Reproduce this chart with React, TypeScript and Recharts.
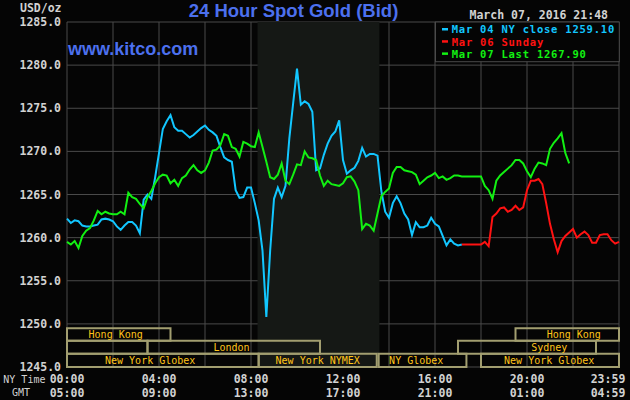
import React from 'react';
import { LineChart, Line, XAxis, YAxis, CartesianGrid, ReferenceArea, ReferenceDot } from 'recharts';

// ---------- data ----------
const STEP_MIN = 10;
const minutes: number[] = Array.from({ length: 145 }, (_, i) => i * STEP_MIN);

// Mar 04 NY close (cyan), 00:00 .. 17:10
const mar04: number[] = [
  1262.2, 1261.7, 1262.0, 1261.9, 1261.4, 1261.3, 1261.3, 1261.4, 1261.5, 1262.1,
  1262.2, 1262.1, 1261.9, 1261.3, 1260.9, 1261.4, 1261.8, 1261.8, 1261.4, 1260.5,
  1264.4, 1265.0, 1264.5, 1267.0, 1269.8, 1272.6, 1273.5, 1274.2, 1272.8, 1272.4,
  1272.4, 1272.0, 1271.6, 1271.9, 1272.3, 1272.7, 1273.0, 1272.5, 1272.2, 1271.8,
  1270.5, 1269.3, 1269.0, 1268.8, 1265.5, 1264.6, 1264.7, 1265.8, 1265.8, 1264.0,
  1262.0, 1258.5, 1250.8, 1258.5, 1264.5, 1265.8, 1264.7, 1266.0, 1271.5, 1275.6,
  1279.6, 1275.4, 1275.8, 1275.5, 1274.6, 1267.8, 1268.0, 1269.6, 1270.9, 1271.8,
  1272.3, 1273.6, 1269.0, 1267.4, 1267.8, 1268.1, 1268.9, 1270.4, 1269.4, 1269.7,
  1269.7, 1269.5, 1265.4, 1263.0, 1262.3, 1264.0, 1264.8, 1264.0, 1262.8, 1262.1,
  1260.3, 1261.8, 1261.2, 1261.2, 1261.4, 1262.3, 1261.6, 1261.3, 1260.2, 1259.1,
  1259.8, 1259.3, 1259.1, 1259.2,
];

// Mar 06 Sunday (red), from 17:10 .. 23:59
const mar06StartMin = 1030;
const mar06: number[] = [
  1259.2, 1259.2, 1259.2, 1259.2, 1259.2, 1259.2,
  1259.5, 1259.0, 1262.4, 1262.8, 1263.4, 1263.5, 1263.0, 1263.2, 1263.7, 1263.2,
  1263.5, 1265.5, 1266.6, 1266.6, 1266.8, 1266.2, 1264.0, 1261.6, 1259.8, 1258.3,
  1259.6, 1260.2, 1260.6, 1261.0, 1260.0, 1260.4, 1260.7, 1260.3, 1259.4, 1259.4,
  1260.3, 1260.4, 1260.4, 1259.7, 1259.3, 1259.5,
];

// Mar 07 Last (green), 00:00 .. 21:50
const mar07: number[] = [
  1259.5, 1259.2, 1259.6, 1258.8, 1260.2, 1260.8, 1261.1, 1262.0, 1263.1, 1262.7,
  1263.0, 1262.8, 1262.7, 1262.7, 1263.0, 1262.7, 1265.2, 1264.7, 1264.5, 1263.9,
  1263.4, 1264.7, 1265.4, 1266.3, 1267.0, 1267.3, 1267.2, 1266.3, 1266.7, 1266.0,
  1266.9, 1267.2, 1267.9, 1268.4, 1267.8, 1267.5, 1267.8, 1268.7, 1270.1, 1270.2,
  1270.7, 1272.0, 1271.8, 1270.5, 1270.3, 1269.4, 1271.1, 1270.9, 1270.6, 1270.5,
  1272.2, 1270.5, 1268.8, 1267.0, 1266.8, 1267.3, 1268.6, 1266.6, 1266.2, 1267.3,
  1268.5, 1268.4, 1270.0, 1269.3, 1269.2, 1269.0, 1267.2, 1266.0, 1266.6, 1266.2,
  1266.1, 1266.0, 1266.3, 1267.0, 1267.1, 1266.5, 1265.5, 1261.0, 1261.6, 1261.4,
  1260.8, 1262.8, 1264.8, 1265.3, 1265.7, 1267.5, 1268.2, 1268.2, 1267.8, 1267.7,
  1267.6, 1267.3, 1266.2, 1266.6, 1267.0, 1267.2, 1267.5, 1266.9, 1267.1, 1266.7,
  1266.9, 1267.2, 1267.2, 1267.1, 1267.1, 1267.1, 1267.1, 1267.1, 1267.1, 1266.0,
  1265.5, 1264.5, 1266.6, 1267.2, 1267.6, 1268.0, 1268.4, 1269.0, 1269.0, 1268.6,
  1267.7, 1267.0, 1268.0, 1268.7, 1268.6, 1268.4, 1270.3, 1271.0, 1271.5, 1272.1,
  1269.8, 1268.6,
];

const yTicks: number[] = [1245, 1250, 1255, 1260, 1265, 1270, 1275, 1280, 1285];
const xGridTicks: number[] = [0, 120, 240, 360, 480, 600, 720, 840, 960, 1080, 1200, 1320, 1440];
const xLabelTicks: number[] = [0, 240, 480, 720, 960, 1200, 1440];
const nyLabels: string[] = ['00:00', '04:00', '08:00', '12:00', '16:00', '20:00', '23:59'];
const gmtLabels: string[] = ['05:00', '09:00', '13:00', '17:00', '21:00', '01:00', '04:59'];

const nymexShade = { start: 497, end: 815 };

const sessions = [
  { name: 'Hong Kong', row: 1, start: 0, end: 270, labelAt: 127 },
  { name: '', row: 2, start: 0, end: 210, labelAt: 105 },
  { name: 'London', row: 2, start: 210, end: 660, labelAt: 429 },
  { name: 'New York Globex', row: 3, start: 0, end: 500, labelAt: 217 },
  { name: 'New York NYMEX', row: 3, start: 500, end: 808, labelAt: 654 },
  { name: 'NY Globex', row: 3, start: 813, end: 1042, labelAt: 911 },
  { name: 'Sydney', row: 2, start: 1020, end: 1380, labelAt: 1258 },
  { name: 'Hong Kong', row: 1, start: 1170, end: 1440, labelAt: 1322 },
  { name: 'New York Globex', row: 3, start: 1080, end: 1440, labelAt: 1258 },
];

const legendItems = [
  { text: 'Mar 04 NY close 1259.10', color: '#12c6ff' },
  { text: 'Mar 06 Sunday', color: '#ff1212' },
  { text: 'Mar 07 Last 1267.90', color: '#12f012' },
];

// ---------- table for recharts ----------
const mar06Offset = mar06StartMin / STEP_MIN;
const rows = minutes.map((t, i) => ({
  t,
  mar04: i < mar04.length ? mar04[i] : null,
  mar06: i >= mar06Offset && i - mar06Offset < mar06.length ? mar06[i - mar06Offset] : null,
  mar07: i < mar07.length ? mar07[i] : null,
}));

// ---------- styles ----------
const BG = '#050505';
const GRID = '#4a4a4a';
const TXT = '#d2d2d2';
const MONO = '"DejaVu Sans Mono", "Liberation Mono", monospace';
const SANS = '"Liberation Sans", Arial, sans-serif';
const BOX = '#a29e70';
const BOXTXT = '#ffc41a';
const BLUE = '#4c70ee';

const rowBands: Record<number, [number, number]> = {
  1: [1248.05, 1249.5],
  2: [1246.55, 1248.05],
  3: [1245, 1246.55],
};

const XTick = (props: any) => {
  const { x, payload } = props;
  const i = xLabelTicks.indexOf(payload.value);
  if (i < 0) return null;
  const cx = payload.value === 1440 ? x - 11 : x;
  return (
    <g>
      <text x={cx} y={382.5} textAnchor="middle" fill={TXT} fontFamily={MONO} fontSize={11.5} fontWeight="bold">
        {nyLabels[i]}
      </text>
      <text x={cx} y={396.5} textAnchor="middle" fill={TXT} fontFamily={MONO} fontSize={11.5} fontWeight="bold">
        {gmtLabels[i]}
      </text>
    </g>
  );
};

const sessionLabel = (name: string) => (p: any) => {
  const vb = p.viewBox || {};
  return (
    <text
      x={vb.x + vb.width / 2}
      y={vb.y + vb.height / 2}
      dy="0.36em"
      textAnchor="middle"
      fill={BOXTXT}
      fontFamily={MONO}
      fontSize={10}
    >
      {name}
    </text>
  );
};

export default function App() {
  return (
    <div style={{ position: 'absolute', left: 0, top: 0, width: 630, height: 400, background: BG, overflow: 'hidden' }}>
      <LineChart width={630} height={400} data={rows} margin={{ top: 22, right: 11, bottom: 0, left: 0 }}>
        <ReferenceArea
          x1={nymexShade.start}
          x2={nymexShade.end}
          y1={1245}
          y2={1285}
          fill="#151815"
          fillOpacity={1}
          stroke="none"
          ifOverflow="hidden"
        />
        <CartesianGrid stroke={GRID} strokeWidth={1} />
        <XAxis
          dataKey="t"
          type="number"
          domain={[0, 1440]}
          ticks={xGridTicks}
          interval={0}
          height={33}
          axisLine={false}
          tickLine={false}
          tick={XTick}
        />
        <YAxis
          type="number"
          domain={[1245, 1285]}
          ticks={yTicks}
          interval={0}
          width={67}
          axisLine={false}
          tickLine={false}
          tickSize={4}
          tickMargin={2}
          tickFormatter={(v: number) => v.toFixed(1)}
          tick={{ fill: TXT, fontFamily: MONO, fontSize: 11.5, fontWeight: 'bold' }}
        />
        {sessions.map((s, i) => (
          <ReferenceArea
            key={'s' + i}
            x1={s.start}
            x2={s.end}
            y1={rowBands[s.row][0]}
            y2={rowBands[s.row][1]}
            fill="none"
            stroke={BOX}
            strokeWidth={2}
            ifOverflow="visible"
          />
        ))}
        {sessions.map((s, i) =>
          s.name ? (
            <ReferenceDot
              key={'l' + i}
              x={s.labelAt}
              y={(rowBands[s.row][0] + rowBands[s.row][1]) / 2}
              r={0}
              fill="none"
              stroke="none"
              ifOverflow="visible"
              label={sessionLabel(s.name)}
            />
          ) : null
        )}
        <Line type="linear" dataKey="mar04" stroke="#12c6ff" strokeWidth={2} dot={false} isAnimationActive={false} connectNulls={false} />
        <Line type="linear" dataKey="mar06" stroke="#ff1212" strokeWidth={2} dot={false} isAnimationActive={false} connectNulls={false} />
        <Line type="linear" dataKey="mar07" stroke="#12f012" strokeWidth={2} dot={false} isAnimationActive={false} connectNulls={false} />
      </LineChart>
      <svg width={630} height={400} style={{ position: 'absolute', left: 0, top: 0, pointerEvents: 'none' }}>
        <text x={61.5} y={12} textAnchor="end" fill={TXT} fontFamily={MONO} fontSize={11.5} fontWeight="bold">USD/oz</text>
        <text x={293.5} y={16.7} textAnchor="middle" fill={BLUE} fontFamily={SANS} fontSize={18.5} fontWeight="bold">24 Hour Spot Gold (Bid)</text>
        <text x={608} y={18.5} textAnchor="end" fill={TXT} fontFamily={MONO} fontSize={11.5} fontWeight="bold">March 07, 2016 21:48</text>
        <text x={68} y={55} fill={BLUE} fontFamily={SANS} fontSize={18} fontWeight="bold">www.kitco.com</text>
        <rect x={435.5} y={22} width={183.8} height={39.7} fill={BG} stroke={GRID} strokeWidth={1} />
        {legendItems.map((it, i) => (
          <g key={i}>
            <rect x={442} y={28 + i * 12.2} width={6} height={2.5} fill={it.color} />
            <text x={451.7} y={33.3 + i * 12.2} fill={it.color} fontFamily={MONO} fontSize={10.5} letterSpacing={0.78} fontWeight="bold">
              {it.text}
            </text>
          </g>
        ))}
        <text x={3.3} y={383} fill={TXT} fontFamily={MONO} fontSize={10}>NY Time</text>
        <text x={12} y={396} fill={TXT} fontFamily={MONO} fontSize={10}>GMT</text>
      </svg>
    </div>
  );
}
